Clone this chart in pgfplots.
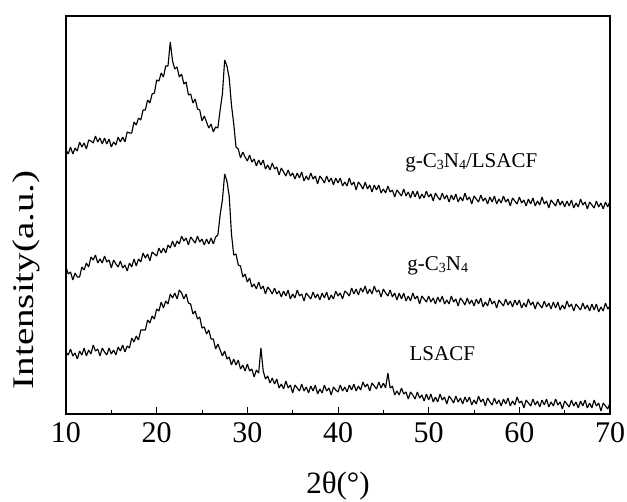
\documentclass[border=0pt]{standalone}
\usepackage{fontspec}
\setmainfont{Liberation Serif}
\usepackage{pgfplots}
\usepackage{pgfplotstable}
\pgfplotsset{compat=1.18}
\newcommand\sub[1]{\raisebox{-0.08em}{\fontsize{14}{14}\selectfont #1}}
\pgfplotstableread{
x T M B
10.00 264 147 62
10.25 260 140 59
10.50 267 142 65
10.75 260 134 58
11.00 266 141 61
11.25 263 137 55
11.50 272 137 63
11.75 267 147 59
12.00 271 144 66
12.25 265 151 58
12.50 274 147 64
12.75 273 157 60
13.00 271 154 69
13.25 278 159 63
13.50 272 151 65
13.75 276 155 58
14.00 270 151 66
14.25 276 158 62
14.50 270 152 59
14.75 275 154 66
15.00 267 146 60
15.25 272 154 64
15.50 269 150 59
15.75 277 147 67
16.00 272 153 63
16.25 277 146 69
16.50 272 149 62
16.75 282 143 68
17.00 281 151 66
17.25 281 147 76
17.50 292 155 72
17.75 289 148 78
18.00 296 155 74
18.25 294 152 84
18.50 304 161 84
18.75 304 156 84
19.00 314 160 94
19.25 311 153 91
19.50 320 162 98
19.75 321 160 95
20.00 334 158 105
20.25 333 166 103
20.50 341 161 112
20.75 337 166 106
21.00 348 161 113
21.25 348 169 110
21.50 372 166 120
21.75 353 173 116
22.00 345 167 121
22.25 347 173 115
22.50 337 170 124
22.75 340 178 121
23.00 330 173 115
23.25 332 176 120
23.50 319 169 111
23.75 320 177 110
24.00 311 174 100
24.25 315 171 103
24.50 305 178 95
24.75 304 172 97
25.00 293 175 86
25.25 298 169 87
25.50 292 175 80
25.75 286 170 84
26.00 290 176 75
26.25 282 170 75
26.50 287 177 65
26.75 286 179 70
27.00 304 199 64
27.25 320 214 58
27.50 354 240 63
27.75 348 233 55
28.00 336 218 57
28.25 309 180 49
28.50 290 159 55
28.75 267 160 49
29.00 265 149 54
29.25 256 148 45
29.50 262 137 49
29.75 257 140 43
30.00 253 132 50
30.25 259 136 43
30.50 252 127 45
30.75 255 130 37
31.00 248 125 44
31.25 254 132 41
31.50 249 125 66
31.75 254 128 43
32.00 245 120 35
32.25 249 127 38
32.50 244 124 31
32.75 251 120 36
33.00 245 126 30
33.25 247 120 35
33.50 239 123 26
33.75 246 117 30
34.00 242 123 25
34.25 238 118 33
34.50 244 124 26
34.75 238 115 29
35.00 241 120 21
35.25 235 116 29
35.50 241 124 26
35.75 236 118 23
36.00 242 120 30
36.25 233 113 23
36.50 238 121 27
36.75 234 118 21
37.00 241 115 28
37.25 235 122 23
37.50 238 116 29
37.75 230 120 20
38.00 238 114 25
38.25 235 121 21
38.50 231 116 29
38.75 238 122 23
39.00 232 114 26
39.25 236 119 19
39.50 229 115 27
39.75 236 123 24
40.00 231 118 22
40.25 236 121 29
40.50 228 115 23
40.75 232 123 27
41.00 228 121 22
41.25 236 118 29
41.50 229 126 24
41.75 232 120 30
42.00 224 125 23
42.25 232 119 28
42.50 229 126 24
42.75 225 122 32
43.00 232 128 27
43.25 225 120 30
43.50 229 125 23
43.75 222 120 31
44.00 229 128 28
44.25 224 122 25
44.50 229 124 32
44.75 221 117 26
45.00 225 125 31
45.25 221 121 26
45.50 228 118 41
45.75 222 124 26
46.00 224 117 28
46.25 217 121 19
46.50 224 114 23
46.75 221 121 19
47.00 218 115 26
47.25 225 121 20
47.50 218 113 22
47.75 222 118 15
48.00 216 113 22
48.25 223 121 19
48.50 217 115 15
48.75 223 118 22
49.00 215 110 16
49.25 220 118 19
49.50 216 115 13
49.75 223 112 20
50.00 217 118 14
50.25 220 112 20
50.50 213 116 12
50.75 221 110 17
51.00 217 117 12
51.25 214 112 20
51.50 221 118 14
51.75 215 110 17
52.00 219 114 10
52.25 212 110 18
52.50 219 118 15
52.75 214 112 11
53.00 220 115 18
53.25 212 108 12
53.50 217 116 16
53.75 213 113 10
54.00 221 109 17
54.25 214 116 12
54.50 217 110 17
54.75 210 114 9
55.00 218 108 14
55.25 215 115 10
55.50 212 110 18
55.75 219 116 12
56.00 213 107 15
56.25 216 112 8
56.50 210 108 16
56.75 217 116 12
57.00 212 110 9
57.25 218 113 16
57.50 210 106 10
57.75 215 114 14
58.00 211 111 8
58.25 218 108 15
58.50 212 115 10
58.75 215 109 16
59.00 208 113 8
59.25 216 107 13
59.50 213 114 9
59.75 210 109 17
60.00 217 114 11
60.25 211 106 13
60.50 214 111 6
60.75 208 107 14
61.00 215 115 11
61.25 210 109 8
61.50 216 112 15
61.75 208 105 9
62.00 213 112 13
62.25 209 109 7
62.50 217 106 14
62.75 210 113 9
63.00 213 107 15
63.25 206 111 7
63.50 214 105 12
63.75 211 112 8
64.00 208 106 15
64.25 215 112 9
64.50 209 104 12
64.75 213 109 5
65.00 207 105 13
65.25 213 113 10
65.50 208 107 7
65.75 214 110 14
66.00 206 103 8
66.25 211 110 12
66.50 207 107 6
66.75 215 104 13
67.00 209 111 8
67.25 212 105 14
67.50 205 109 6
67.75 212 103 11
68.00 209 110 6
68.25 206 104 14
68.50 213 110 8
68.75 207 102 11
69.00 211 107 3
69.25 205 103 11
69.50 212 111 8
69.75 207 105 5
70.00 213 108 11
}\xrd
\begin{document}
\begin{tikzpicture}
\begin{axis}[
  name=ax,
  scale only axis,
  width=544pt, height=398pt,
  xmin=10, xmax=70, ymin=0, ymax=398,
  xtick={10,20,...,70},
  minor x tick num=1,
  ytick=\empty,
  xtick pos=bottom,
  tick align=inside,
  major tick length=7pt,
  minor tick length=4.5pt,
  axis line style={line width=1.2pt},
  every tick/.style={line width=1pt, black},
  /pgf/number format/assume math mode=true,
  xticklabel style={font=\fontsize{30}{30}\selectfont, yshift=-5pt},
  xlabel={2θ(°)},
  xlabel style={font=\fontsize{31}{31}\selectfont, at={(axis description cs:0.5,-0.181)}, anchor=center},
  clip=false,
]
\addplot[black, line width=1.15pt, line join=bevel] table[x=x, y=T] {\xrd};
\addplot[black, line width=1.15pt, line join=bevel] table[x=x, y=M] {\xrd};
\addplot[black, line width=1.15pt, line join=bevel] table[x=x, y=B] {\xrd};
\node[font=\fontsize{21}{21}\selectfont, anchor=center] at (axis cs:54.7,251) {g-C\sub{3}N\sub{4}/LSACF};
\node[font=\fontsize{21}{21}\selectfont, anchor=center] at (axis cs:51.0,148) {g-C\sub{3}N\sub{4}};
\node[font=\fontsize{21}{21}\selectfont, anchor=center] at (axis cs:51.5,60) {LSACF};
\node[font=\fontsize{30}{30}\selectfont, rotate=90, anchor=center] at (axis description cs:-0.0735,0.337) {\scalebox{1.3}[1]{Intensity(a.u.)}};
\end{axis}
\pgfresetboundingbox
\path[use as bounding box] ([shift={(-66pt,-87pt)}]ax.south west) rectangle ([shift={(17pt,16pt)}]ax.north east);
\end{tikzpicture}
\end{document}
